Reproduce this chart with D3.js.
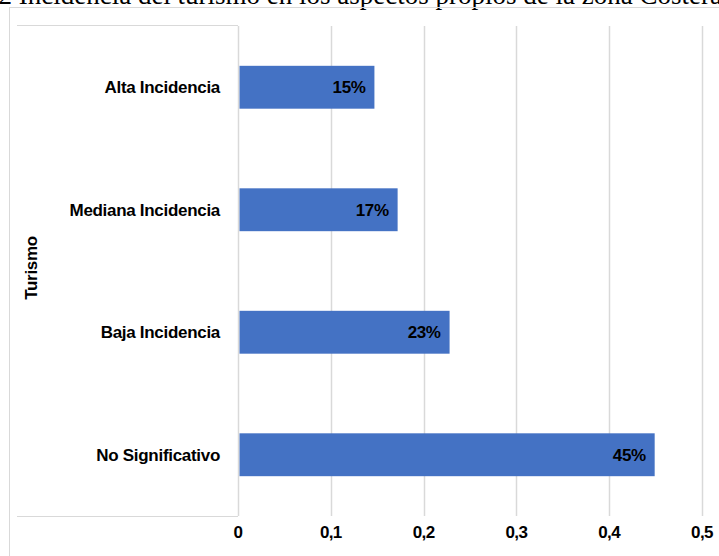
<!DOCTYPE html>
<html><head><meta charset="utf-8">
<script src="https://cdn.jsdelivr.net/npm/d3@7"></script>
<style>body{margin:0;background:#fff}svg{display:block}</style>
</head><body>
<svg id="chart" width="719" height="556"></svg>
<script>
const categories = ["Alta Incidencia", "Mediana Incidencia", "Baja Incidencia", "No Significativo"];
const values = [0.147, 0.172, 0.228, 0.449];
const valueLabels = ["15%", "17%", "23%", "45%"];
const xTicks = [0, 0.1, 0.2, 0.3, 0.4, 0.5];
const xTickLabels = ["0", "0,1", "0,2", "0,3", "0,4", "0,5"];
const titleText = "2 Incidencia del turismo en los aspectos propios de la zona Costera";
const axisTitle = "Turismo";

const svg = d3.select("#chart");
const grid = "#d9d9d9";
const x = d3.scaleLinear().domain([0, 0.5]).range([238, 702]);
const y = d3.scaleBand().domain(categories).range([26, 516]).paddingInner(0.65).paddingOuter(0.325);

// title (cropped at top, as in the reference)
const t = svg.append("text").attr("y", 4)
  .attr("font-family", "Liberation Serif, Times New Roman, serif").attr("font-size", 27)
  .attr("fill", "#000").text(titleText);
const tl = t.node().getComputedTextLength();
t.attr("x", 722 - tl);

// outer border
svg.append("rect").attr("x", 9.5).attr("y", 7.5).attr("width", 720).attr("height", 560)
  .attr("fill", "none").attr("stroke", grid).attr("stroke-width", 1);

// category label box lines
svg.append("line").attr("x1", 17).attr("x2", 238).attr("y1", 25.5).attr("y2", 25.5).attr("stroke", grid);
svg.append("line").attr("x1", 17).attr("x2", 238).attr("y1", 516.5).attr("y2", 516.5).attr("stroke", grid);

// gridlines
svg.append("g").selectAll("line").data(xTicks).join("line")
  .attr("x1", d => Math.round(x(d)) + 0.5).attr("x2", d => Math.round(x(d)) + 0.5)
  .attr("y1", 26).attr("y2", 516).attr("stroke", grid).attr("stroke-width", 1.5);

// bars
svg.append("g").selectAll("rect").data(values).join("rect")
  .attr("x", x(0) + 1.5).attr("y", (d, i) => y(categories[i]))
  .attr("width", d => x(d) - x(0) - 1.5).attr("height", y.bandwidth())
  .attr("fill", "#4472C4");

const fontBold = (sel, size, ls) => sel.attr("font-family", "Liberation Sans, Arial, sans-serif")
  .attr("font-weight", "bold").attr("font-size", size).attr("letter-spacing", ls).attr("fill", "#000");

// value labels
fontBold(svg.append("g").selectAll("text").data(values).join("text")
  .attr("x", d => x(d) - 9).attr("y", (d, i) => y(categories[i]) + y.bandwidth() / 2)
  .attr("dy", "0.35em").attr("text-anchor", "end").text((d, i) => valueLabels[i]), 17, -0.4);

// category labels
fontBold(svg.append("g").selectAll("text").data(categories).join("text")
  .attr("x", 220).attr("y", d => y(d) + y.bandwidth() / 2)
  .attr("dy", "0.35em").attr("text-anchor", "end").text(d => d), 17, -0.3);

// tick labels
fontBold(svg.append("g").selectAll("text").data(xTicks).join("text")
  .attr("x", d => x(d)).attr("y", 538)
  .attr("text-anchor", "middle").text((d, i) => xTickLabels[i]), 17, -0.6);

// axis title
fontBold(svg.append("text").attr("transform", "translate(37,268) rotate(-90)")
  .attr("text-anchor", "middle").text(axisTitle), 17, -0.3);
</script>
</body></html>
